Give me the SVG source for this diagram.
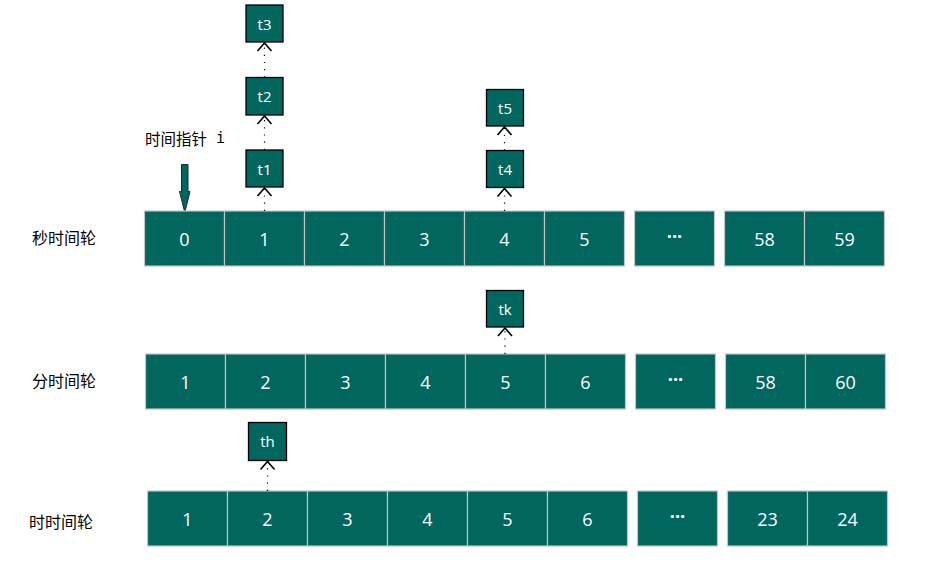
<svg xmlns="http://www.w3.org/2000/svg" width="929" height="563" viewBox="0 0 929 563">
<style>
.cell{fill:#00665E;stroke:#C4C4C4;stroke-width:1.2}
.task{fill:#00665E;stroke:#000;stroke-width:1.3}
.num{font-family:"Open Sans","Noto Sans",sans-serif;font-size:18px;fill:#fff;text-anchor:middle;dominant-baseline:central}
.tl{font-family:"Open Sans","Noto Sans",sans-serif;font-size:15px;fill:#fff;text-anchor:middle;dominant-baseline:central}
.lbl{font-family:"Noto Sans CJK SC","Noto Sans",sans-serif;font-size:16px;fill:#000;dominant-baseline:central}
.dots{font-family:"Open Sans","Noto Sans",sans-serif;font-size:18px;font-weight:bold;fill:#fff;text-anchor:middle;dominant-baseline:central}
.conn{stroke:#000;stroke-width:1.2;stroke-dasharray:1.2,6;fill:none}
</style>
<defs>
<marker id="open" markerUnits="userSpaceOnUse" markerWidth="12" markerHeight="18" refX="9" refY="8" orient="auto" viewBox="0 0 12 16">
<path d="M1,1 L9,8 L1,15" fill="none" stroke="#000" stroke-width="1.6"/>
</marker>
</defs>

<g id="labels">
<text class="lbl" x="32" y="237">秒时间轮</text>
<text class="lbl" x="32" y="380">分时间轮</text>
<text class="lbl" x="29" y="521">时时间轮</text>
</g>

<g id="pointer">
<text class="lbl" x="145" y="138" style="font-size:15.5px">时间指针</text>
<text class="lbl" x="216" y="138" style="font-size:15px;font-family:'DejaVu Sans Mono',monospace">i</text>
<path d="M181.5,164.5 H188 V191.5 H190 L184.8,212.5 L179.5,191.5 H181.5 Z" fill="#00665E" stroke="#1a2a2a" stroke-width="1"/>
</g>

<g id="wheel-sec">
<rect class="cell" x="144.5" y="211" width="80" height="55"/><text class="num" x="184.5" y="238.5">0</text>
<rect class="cell" x="224.5" y="211" width="80" height="55"/><text class="num" x="264.5" y="238.5">1</text>
<rect class="cell" x="304.5" y="211" width="80" height="55"/><text class="num" x="344.5" y="238.5">2</text>
<rect class="cell" x="384.5" y="211" width="80" height="55"/><text class="num" x="424.5" y="238.5">3</text>
<rect class="cell" x="464.5" y="211" width="80" height="55"/><text class="num" x="504.5" y="238.5">4</text>
<rect class="cell" x="544.5" y="211" width="80" height="55"/><text class="num" x="584.5" y="238.5">5</text>
<rect class="cell" x="634.5" y="211" width="80" height="55"/><text class="dots" x="674.5" y="236">···</text>
<rect class="cell" x="724.5" y="211" width="80" height="55"/><text class="num" x="764.5" y="238.5">58</text>
<rect class="cell" x="804.5" y="211" width="80" height="55"/><text class="num" x="844.5" y="238.5">59</text>
</g>

<g id="wheel-min">
<rect class="cell" x="145.5" y="354" width="80" height="55"/><text class="num" x="185.5" y="381.5">1</text>
<rect class="cell" x="225.5" y="354" width="80" height="55"/><text class="num" x="265.5" y="381.5">2</text>
<rect class="cell" x="305.5" y="354" width="80" height="55"/><text class="num" x="345.5" y="381.5">3</text>
<rect class="cell" x="385.5" y="354" width="80" height="55"/><text class="num" x="425.5" y="381.5">4</text>
<rect class="cell" x="465.5" y="354" width="80" height="55"/><text class="num" x="505.5" y="381.5">5</text>
<rect class="cell" x="545.5" y="354" width="80" height="55"/><text class="num" x="585.5" y="381.5">6</text>
<rect class="cell" x="635.5" y="354" width="80" height="55"/><text class="dots" x="675.5" y="379">···</text>
<rect class="cell" x="725.5" y="354" width="80" height="55"/><text class="num" x="765.5" y="381.5">58</text>
<rect class="cell" x="805.5" y="354" width="80" height="55"/><text class="num" x="845.5" y="381.5">60</text>
</g>

<g id="wheel-hour">
<rect class="cell" x="147.5" y="491" width="80" height="55"/><text class="num" x="187.5" y="518.5">1</text>
<rect class="cell" x="227.5" y="491" width="80" height="55"/><text class="num" x="267.5" y="518.5">2</text>
<rect class="cell" x="307.5" y="491" width="80" height="55"/><text class="num" x="347.5" y="518.5">3</text>
<rect class="cell" x="387.5" y="491" width="80" height="55"/><text class="num" x="427.5" y="518.5">4</text>
<rect class="cell" x="467.5" y="491" width="80" height="55"/><text class="num" x="507.5" y="518.5">5</text>
<rect class="cell" x="547.5" y="491" width="80" height="55"/><text class="num" x="587.5" y="518.5">6</text>
<rect class="cell" x="637.5" y="491" width="80" height="55"/><text class="dots" x="677.5" y="516">···</text>
<rect class="cell" x="727.5" y="491" width="80" height="55"/><text class="num" x="767.5" y="518.5">23</text>
<rect class="cell" x="807.5" y="491" width="80" height="55"/><text class="num" x="847.5" y="518.5">24</text>
</g>

<g id="t3"><rect class="task" x="246" y="5" width="37" height="37"/><text class="tl" x="264.5" y="23.5">t3</text></g>
<g id="t2"><rect class="task" x="246" y="77.5" width="37" height="37.5"/><text class="tl" x="264.5" y="96">t2</text></g>
<g id="t1"><rect class="task" x="246" y="150" width="37" height="37"/><text class="tl" x="264.5" y="168.5">t1</text></g>
<g id="t5"><rect class="task" x="486.5" y="89.5" width="37" height="36.5"/><text class="tl" x="505" y="107.5">t5</text></g>
<g id="t4"><rect class="task" x="486.5" y="150.5" width="37" height="37"/><text class="tl" x="505" y="169">t4</text></g>
<g id="tk"><rect class="task" x="486.5" y="290.5" width="37" height="36.5"/><text class="tl" x="505" y="308.5">tk</text></g>
<g id="th"><rect class="task" x="248.5" y="422.5" width="38" height="38"/><text class="tl" x="267.5" y="441">th</text></g>

<g id="connectors">
<line class="conn" x1="264.5" y1="211" x2="264.5" y2="188" marker-end="url(#open)"/>
<line class="conn" x1="264.5" y1="150" x2="264.5" y2="116" marker-end="url(#open)"/>
<line class="conn" x1="264.5" y1="77.5" x2="264.5" y2="43" marker-end="url(#open)"/>
<line class="conn" x1="504.5" y1="211" x2="504.5" y2="188.5" marker-end="url(#open)"/>
<line class="conn" x1="504.5" y1="150.5" x2="504.5" y2="127" marker-end="url(#open)"/>
<line class="conn" x1="505" y1="354" x2="505" y2="328" marker-end="url(#open)"/>
<line class="conn" x1="267.5" y1="491" x2="267.5" y2="461.5" marker-end="url(#open)"/>
</g>
</svg>
